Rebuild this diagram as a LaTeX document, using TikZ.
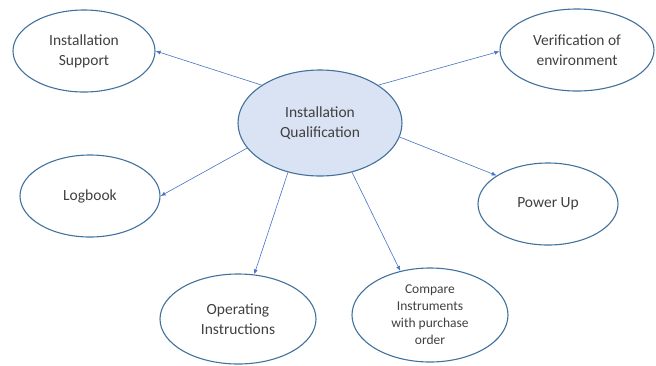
\documentclass[tikz,border=0pt]{standalone}
\usepackage{fontspec}
\setmainfont{Carlito}
\usetikzlibrary{positioning,arrows.meta,shapes.geometric}
\definecolor{rim}{HTML}{41719C}
\definecolor{link}{HTML}{4472C4}
\definecolor{core}{HTML}{DAE3F3}
\definecolor{ink}{HTML}{404040}

\begin{document}
\begin{tikzpicture}[
  x=1pt, y=-1pt,
  bubble/.style={ellipse, draw=rim, line width=1.1pt, inner sep=0pt, align=center,
    text=ink, font=\fontsize{15.5}{20}\selectfont},
  link/.style={->, draw=link, line width=0.6pt},
  >={Latex[length=5pt,width=4pt]}
]
  \useasboundingbox (0,0) rectangle (656,365);

  \node[bubble, fill=core, minimum width=164pt, minimum height=106pt] (IQ) at (320,123) {Installation\\Qualification};

  \node[bubble, minimum width=142pt, minimum height=82pt] (IS) at (84,51) {Installation\\Support};
  \node[bubble, minimum width=154pt, minimum height=82pt] (VE) at (577,50) {Verification of\\environment};
  \node[bubble, minimum width=140pt, minimum height=82pt] (LB) at (90,196) {Logbook};
  \node[bubble, minimum width=140pt, minimum height=82pt] (PU) at (548,204) {Power Up};
  \node[bubble, minimum width=156pt, minimum height=90pt] (OI) at (238,319) {Operating\\Instructions};
  \node[bubble, minimum width=156pt, minimum height=94pt, font=\fontsize{13.5}{17}\selectfont] (CI) at (430,315) {Compare\\Instruments\\with purchase\\order};

  \draw[link] (IQ.147) -- (IS.0);
  \draw[link] (IQ.33) -- (VE.181);
  \draw[link] (IQ.199) -- (LB.0);
  \draw[link] (IQ.350) -- (PU.151);
  \draw[link] (IQ.237) -- (OI.70);
  \draw[link] (IQ.303) -- (CI.124);

\end{tikzpicture}
\end{document}
